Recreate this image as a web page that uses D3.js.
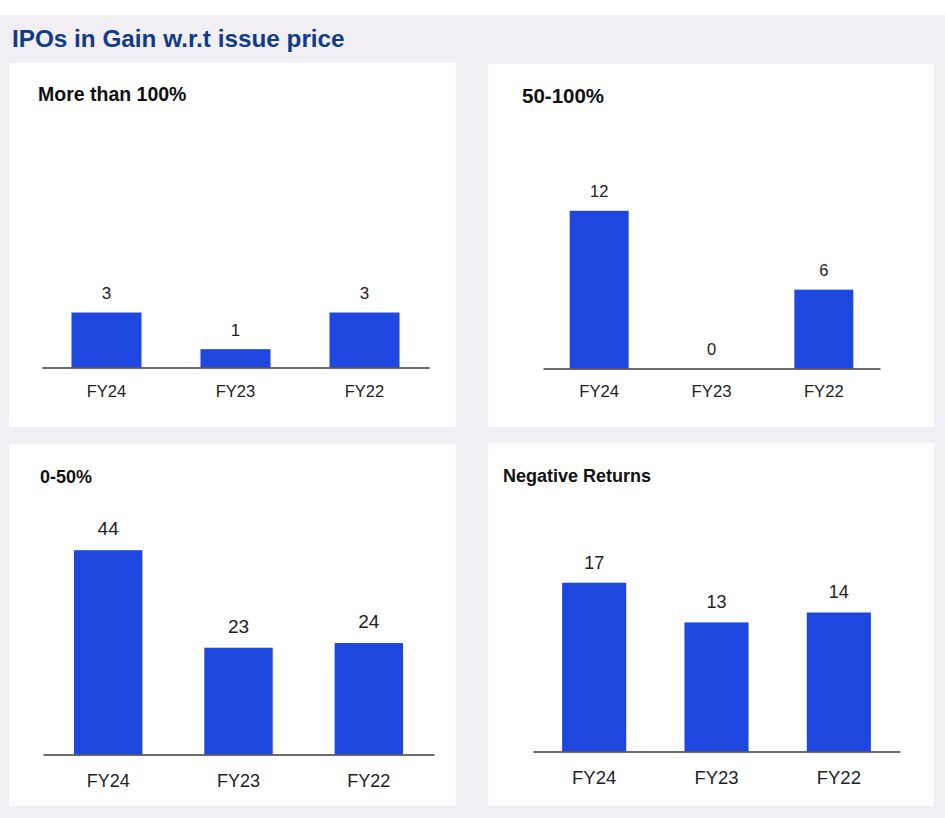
<!DOCTYPE html>
<html>
<head>
<meta charset="utf-8">
<script src="https://cdn.jsdelivr.net/npm/d3@7/dist/d3.min.js"></script>
<style>
  html, body { margin: 0; padding: 0; background: #ffffff; }
  svg { display: block; }
</style>
</head>
<body>
<script>
// ---------- DATA ----------
const chartTitle = "IPOs in Gain w.r.t issue price";
const categories = ["FY24", "FY23", "FY22"];
const panelTitles = ["More than 100%", "50-100%", "0-50%", "Negative Returns"];
const moreThan100 = [3, 1, 3];
const fiftyTo100 = [12, 0, 6];
const zeroTo50 = [44, 23, 24];
const negativeReturns = [17, 13, 14];
const seriesList = [moreThan100, fiftyTo100, zeroTo50, negativeReturns];

// ---------- LAYOUT (positions & styles only) ----------
const W = 945, H = 818;
const barColor = "#1e47df";
const layouts = [
  { box: [9, 63, 447, 364],  title: [38, 101, 19.5], axisY: 367.5, x0: 42,  x1: 429, pad: 0.457, plotH: 55,    valSize: 17,   valGap: 13.5, catSize: 16.5, catGap: 29 },
  { box: [488, 64, 446, 363], title: [522, 103, 20.5], axisY: 368.5, x0: 543, x1: 880, pad: 0.475, plotH: 157.7, valSize: 16.5, valGap: 13.5, catSize: 16.7, catGap: 28.4 },
  { box: [9, 444, 447, 362], title: [40, 483, 18],   axisY: 754.5, x0: 43,  x1: 434, pad: 0.475, plotH: 204.3, valSize: 19,   valGap: 15,   catSize: 18,   catGap: 32.4 },
  { box: [488, 443, 446, 363], title: [503, 482, 18], axisY: 751.5, x0: 533, x1: 900, pad: 0.476, plotH: 168.8, valSize: 18,   valGap: 14,   catSize: 18.5, catGap: 32 }
];

const svg = d3.select("body").append("svg")
  .attr("width", W).attr("height", H)
  .style("font-family", "'Liberation Sans', Arial, Helvetica, sans-serif");

// background
svg.append("rect").attr("x", 0).attr("y", 0).attr("width", W).attr("height", H).attr("fill", "#ffffff");
svg.append("rect").attr("x", 0).attr("y", 15).attr("width", W).attr("height", H - 15).attr("fill", "#f1eff3");

// main title
svg.append("text")
  .attr("x", 12).attr("y", 47)
  .attr("font-size", 24.3).attr("font-weight", "bold")
  .attr("fill", "#0f3b88")
  .text(chartTitle);

layouts.forEach((L, i) => {
  const values = seriesList[i];
  const g = svg.append("g");

  g.append("rect")
    .attr("x", L.box[0]).attr("y", L.box[1])
    .attr("width", L.box[2]).attr("height", L.box[3])
    .attr("fill", "#ffffff");

  g.append("text")
    .attr("x", L.title[0]).attr("y", L.title[1])
    .attr("font-size", L.title[2]).attr("font-weight", "bold")
    .attr("fill", "#111111")
    .text(panelTitles[i]);

  const x = d3.scaleBand()
    .domain(categories)
    .range([L.x0, L.x1])
    .paddingInner(L.pad)
    .paddingOuter(L.pad / 2);

  const yMax = d3.max(values);
  const y = d3.scaleLinear()
    .domain([0, yMax])
    .range([L.axisY, L.axisY - L.plotH]);

  g.selectAll("rect.bar")
    .data(values)
    .join("rect")
    .attr("class", "bar")
    .attr("x", (d, j) => x(categories[j]))
    .attr("width", x.bandwidth())
    .attr("y", d => y(d))
    .attr("height", d => y(0) - y(d))
    .attr("fill", barColor);

  g.selectAll("text.val")
    .data(values)
    .join("text")
    .attr("class", "val")
    .attr("x", (d, j) => x(categories[j]) + x.bandwidth() / 2)
    .attr("y", d => y(d) - L.valGap)
    .attr("text-anchor", "middle")
    .attr("font-size", L.valSize)
    .attr("fill", "#222222")
    .text(d => d);

  const axis = d3.axisBottom(x).tickSize(0).tickSizeOuter(0);
  const ax = g.append("g")
    .attr("transform", `translate(0,${L.axisY})`)
    .call(axis);
  ax.select(".domain").attr("stroke", "#3c3c3c").attr("stroke-width", 1.6);
  ax.selectAll(".tick text")
    .attr("y", L.catGap).attr("dy", 0)
    .attr("font-size", L.catSize)
    .attr("font-family", "'Liberation Sans', Arial, Helvetica, sans-serif")
    .attr("fill", "#222222");
});
</script>
</body>
</html>
